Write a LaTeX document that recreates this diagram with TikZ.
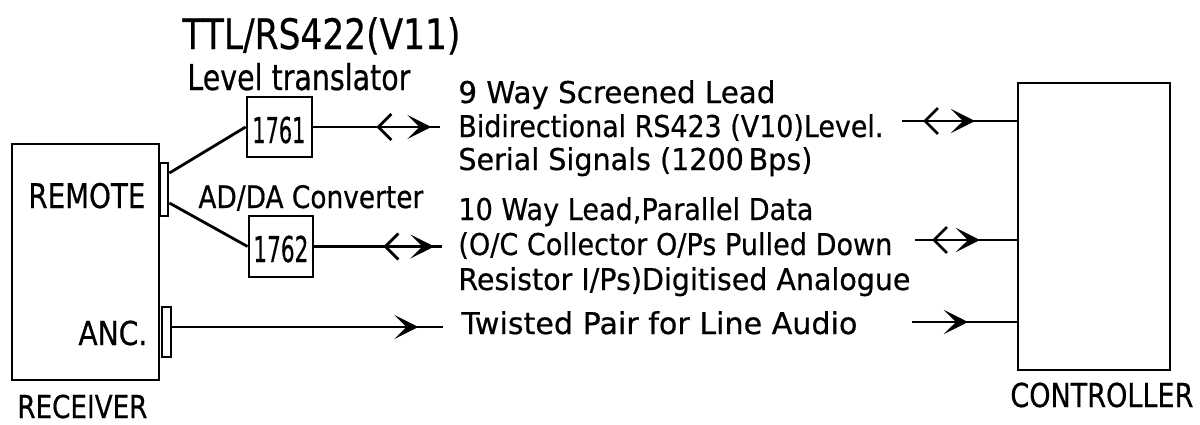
\documentclass[tikz,border=0pt]{standalone}
\usepackage{fontspec}
\setmainfont{DejaVu Sans}[FakeBold=0.6]
\usetikzlibrary{arrows.meta,decorations.markings}
\newcommand\fitw[2]{\resizebox{#1}{\height}{#2}}
\tikzset{
  wire/.style={line width=1.4pt},
  box/.style={draw, line width=1.4pt, inner sep=0pt},
  lbl/.style={anchor=base west, inner sep=0pt},
  body/.style={lbl, font=\fontsize{15pt}{16pt}\selectfont},
  rtip/.style={postaction={decorate, decoration={markings, mark=at position #1 with {\arrow{Stealth[length=12pt,width=12pt,inset=6pt]}}}}},
  ltip/.style={postaction={decorate, decoration={markings, mark=at position #1 with {\arrowreversed{Straight Barb[length=6.5pt,width=13pt]}}}}},
}
\begin{document}
\begin{tikzpicture}[x=0.5pt,y=-0.5pt]
\useasboundingbox (0,0) rectangle (1200,424);
% boxes
\node[box, minimum width=73.5pt, minimum height=118pt] (rx) at (85.5,262) {};
\node[box, minimum width=4pt, minimum height=26.5pt] (rc) at (164,189.5) {};
\node[box, minimum width=4.5pt, minimum height=25pt] (ac) at (166.5,332) {};
\node[box, minimum width=32.5pt, minimum height=30pt] (t1) at (279.5,127) {};
\node[box, minimum width=32pt, minimum height=30.5pt] (t2) at (281,246.5) {};
\node[box, minimum width=76pt, minimum height=143.5pt] (ctrl) at (1094,226.5) {};
% labels in / near boxes
\node[lbl, font=\fontsize{17pt}{18pt}\selectfont] (lremote) at (28,208) {\fitw{58.5pt}{REMOTE}};
\node[lbl, font=\fontsize{16.5pt}{18pt}\selectfont] (lanc) at (78,345) {\fitw{34.5pt}{ANC.}};
\node[lbl, font=\fontsize{15.8pt}{18pt}\selectfont] (lrx) at (17,418) {\fitw{65pt}{RECEIVER}};
\node[lbl, font=\fontsize{16.5pt}{18pt}\selectfont] (lctrl) at (1010,407) {\fitw{91.5pt}{CONTROLLER}};
\node[lbl, font=\fontsize{17.8pt}{18pt}\selectfont] (l1761) at (252,143) {\fitw{26.5pt}{1761}};
\node[lbl, font=\fontsize{17.8pt}{18pt}\selectfont] (l1762) at (253,262) {\fitw{27.5pt}{1762}};
\node[lbl, font=\fontsize{21pt}{22pt}\selectfont] (lttl) at (182,49) {\fitw{139pt}{TTL/RS422(V11)}};
\node[lbl, font=\fontsize{17.8pt}{18pt}\selectfont] (llev) at (187,90) {\fitw{111.5pt}{Level translator}};
\node[lbl, font=\fontsize{15.5pt}{18pt}\selectfont] (ladda) at (198,208) {\fitw{112.5pt}{AD/DA Converter}};
% description texts
\node[body] (d1) at (458,103) {\fitw{158.5pt}{9 Way Screened Lead}};
\node[body] (d2) at (458,137) {\fitw{212.5pt}{Bidirectional RS423 (V10)Level.}};
\node[body] (d3) at (458,170) {\fitw{177pt}{Serial Signals (1200\,Bps)}};
\node[body] (d4) at (458,220) {\fitw{177.5pt}{10 Way Lead,Parallel Data}};
\node[body] (d5) at (458,255) {\fitw{217pt}{(O/C Collector O/Ps Pulled Down}};
\node[body] (d6) at (458,290) {\fitw{226pt}{Resistor I/Ps)Digitised Analogue}};
\node[body] (d7) at (461,334) {\fitw{198pt}{Twisted Pair for Line Audio}};
% wires receiver side
\draw[wire] ([yshift=8.25pt]rc.east) -- (t1.west);
\draw[wire] ([yshift=-6.75pt]rc.east) -- (t2.west);
\coordinate (e1) at (440,127);
\coordinate (e2) at (442,246.5);
\coordinate (e3) at (443,327);
\draw[wire, ltip=31.5pt, rtip=59pt] (t1.east) -- (e1);
\draw[wire, ltip=34.5pt, rtip=60pt] (t2.east) -- (e2);
\draw[wire, rtip=123pt] ([yshift=2.5pt]ac.east) -- (e3);
% wires controller side
\coordinate (s1) at (902,121);
\coordinate (s2) at (915,240);
\coordinate (s3) at (912,322);
\draw[wire, ltip=10.5pt, rtip=36.5pt] (s1) -- (s1 -| ctrl.west);
\draw[wire, ltip=8.5pt, rtip=32.5pt] (s2) -- (s2 -| ctrl.west);
\draw[wire, rtip=28pt] (s3) -- (s3 -| ctrl.west);
\end{tikzpicture}
\end{document}
